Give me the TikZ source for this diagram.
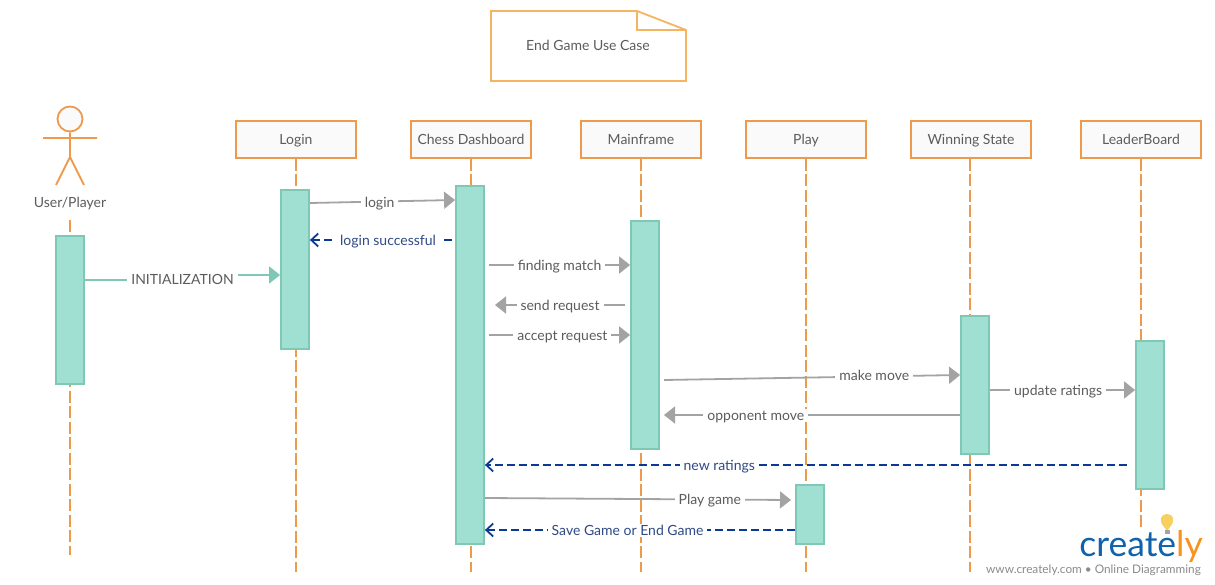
\documentclass[tikz,border=0pt]{standalone}
\usepackage{fontspec}
\setmainfont{Lato}
\usepackage{xcolor}
\usetikzlibrary{arrows.meta}
\definecolor{lifeorange}{HTML}{EE9A4D}
\definecolor{noteorange}{HTML}{F5B45F}
\definecolor{barfill}{HTML}{A0E0D2}
\definecolor{barline}{HTML}{7FC8B5}
\definecolor{msggrey}{HTML}{A3A3A3}
\definecolor{replyblue}{HTML}{0B3A94}
\definecolor{replytext}{HTML}{2F4A85}
\definecolor{labeltext}{HTML}{5C5C5C}
\definecolor{logoblue}{HTML}{0F62AC}
\definecolor{logoorange}{HTML}{F7931E}
\definecolor{bulbyellow}{HTML}{F7D060}
\tikzset{
  lifehead/.style={draw=lifeorange,line width=1.9pt,fill=white!98!black,minimum width=120pt,minimum height=37pt,inner sep=0pt,text height=12pt,text depth=1pt,text=labeltext,font=\fontsize{14}{16}\selectfont},
  lifeline/.style={draw=lifeorange,line width=1.8pt,dash pattern=on 12pt off 3.5pt},
  activebar/.style={draw=barline,line width=1.8pt,fill=barfill,minimum width=28pt,inner sep=0pt},
  msgline/.style={draw=msggrey,line width=1.8pt,-{Triangle[length=11pt,width=17pt]}},
  initline/.style={draw=barline,line width=1.8pt,-{Triangle[length=11pt,width=17pt]}},
  replyline/.style={draw=replyblue,line width=1.8pt,dash pattern=on 8pt off 4pt,-{Straight Barb[length=7pt,width=13pt,line width=1.8pt]}},
  msglabel/.style={fill=white,inner sep=0pt,inner xsep=4pt,text height=12pt,text depth=1pt,text=labeltext,font=\fontsize{14}{16}\selectfont},
  replylabel/.style={msglabel,text=replytext}
}
\begin{document}
\begin{tikzpicture}[x=1pt,y=-1pt]
\useasboundingbox (0,0) rectangle (1215,585);
% note
\draw[noteorange,line width=1.8pt] (491,11) -- (637,11) -- (686,30) -- (686,81) -- (491,81) -- cycle;
\draw[noteorange,line width=1.8pt] (637,11) -- (637,30) -- (686,30);
\node[text=labeltext,font=\fontsize{14}{16}\selectfont] (note) at (588,45.5) {End Game Use Case};
% actor
\node[draw=lifeorange,line width=1.8pt,fill=white!98!black,circle,minimum size=25pt,inner sep=0pt] (head) at (70,119) {};
\coordinate (hip) at (70,157);
\coordinate (armL) at (43,138);
\coordinate (armR) at (97,138);
\coordinate (legL) at (56,185);
\coordinate (legR) at (84,185);
\draw[lifeorange,line width=1.8pt] (head) -- (hip) (armL) -- (armR) (legL) -- (hip) -- (legR);
\node[text=labeltext,font=\fontsize{14}{16}\selectfont] (user) at (70,203.5) {User/Player};
% heads
\node[lifehead] (login) at (296,139.5) {Login};
\node[lifehead] (dash) at (471,139.5) {Chess Dashboard};
\node[lifehead] (main) at (641,139.5) {Mainframe};
\node[lifehead] (play) at (806,139.5) {Play};
\node[lifehead] (win) at (971,139.5) {Winning State};
\node[lifehead] (board) at (1141,139.5) {LeaderBoard};
% lifelines
\coordinate (userstart) at (70,220);
\coordinate (userend) at (70,555);
\draw[lifeline] (userstart) -- (userend);
\draw[lifeline] (login.south) -- (login.south |- 0,572);
\draw[lifeline] (dash.south) -- (dash.south |- 0,572);
\draw[lifeline] (main.south) -- (main.south |- 0,572);
\draw[lifeline] (play.south) -- (play.south |- 0,572);
\draw[lifeline] ([xshift=-1pt]win.south) -- ([xshift=-1pt]win.south |- 0,572);
\draw[lifeline] (board.south) -- (board.south |- 0,530);
% bars
\node[activebar,minimum height=148pt] (userbar) at (70,310) {};
\node[activebar,minimum height=159pt] (loginbar) at (295,269.5) {};
\node[activebar,minimum height=358pt] (dashbar) at (470,365) {};
\node[activebar,minimum height=228pt] (mainbar) at (645,335) {};
\node[activebar,minimum height=59pt] (playbar) at (810,514.5) {};
\node[activebar,minimum height=138pt] (winbar) at (975,385) {};
\node[activebar,minimum height=148pt] (boardbar) at (1150,415) {};
% messages
\coordinate (findstart) at (489,265);
\coordinate (sendstart) at (625,305);
\coordinate (sendend) at (495,305);
\coordinate (acceptstart) at (489,335);
\coordinate (movestart) at (664,380);
\coordinate (oppend) at (664,415);
\coordinate (ratestart) at (1127,465);
\coordinate (succstart) at (452,240);
\coordinate (gameend) at (791,500);
\coordinate (initleft) at (182,280);
\coordinate (initright) at (182,275);
\draw[initline] (userbar.east |- 0,280) -- (initleft) -- (initright) -- (loginbar.west |- 0,275);
\node[msglabel] (initlabel) at (182.5,278.5) {INITIALIZATION};
\draw[msgline] (loginbar.east |- 0,203) -- node[msglabel,pos=.48] {login} (dashbar.west |- 0,200);
\draw[replyline] (succstart) -- node[replylabel,pos=.45] {login successful} (loginbar.east |- 0,240);
\draw[msgline] (findstart) -- node[msglabel,pos=.5] {finding match} (mainbar.west |- 0,265);
\draw[msgline] (sendstart) -- node[msglabel,pos=.5] {send request} (sendend);
\draw[msgline] (acceptstart) -- node[msglabel,pos=.52] {accept request} (mainbar.west |- 0,335);
\draw[msgline] (movestart) -- node[msglabel,pos=.71,yshift=1pt] {make move} (winbar.west |- 0,375);
\draw[msgline] (winbar.west |- 0,415) -- node[msglabel,pos=.69] {opponent move} (oppend);
\draw[msgline] (winbar.east |- 0,390) -- node[msglabel,pos=.47] {update ratings} (boardbar.west |- 0,390);
\draw[replyline] (ratestart) -- node[replylabel,pos=.635] {new ratings} (dashbar.east |- 0,465);
\draw[msgline] (dashbar.east |- 0,498) -- node[msglabel,pos=.735] {Play game} (gameend);
\draw[replyline] (playbar.west |- 0,530) -- node[replylabel,pos=.54] {Save Game or End Game} (dashbar.east |- 0,530);
% logo
\fill[bulbyellow] (1167,531) -- (1164,527) .. controls (1158,520) and (1161,514) .. (1167,514) .. controls (1173,514) and (1176,520) .. (1170,527) -- cycle;
\fill[msggrey] (1164.5,530) rectangle (1169.5,534);
\node[anchor=base east,inner sep=0pt,font=\fontsize{35.5}{40}\selectfont,text=logoblue] (logo) at (1203,556) {create\textcolor{logoorange}{ly}};
\node[anchor=base east,inner sep=0pt,font=\fontsize{11.8}{13}\selectfont,text=msggrey!85!black] (site) at (1201,573) {www.creately.com • Online Diagramming};
\end{tikzpicture}
\end{document}
